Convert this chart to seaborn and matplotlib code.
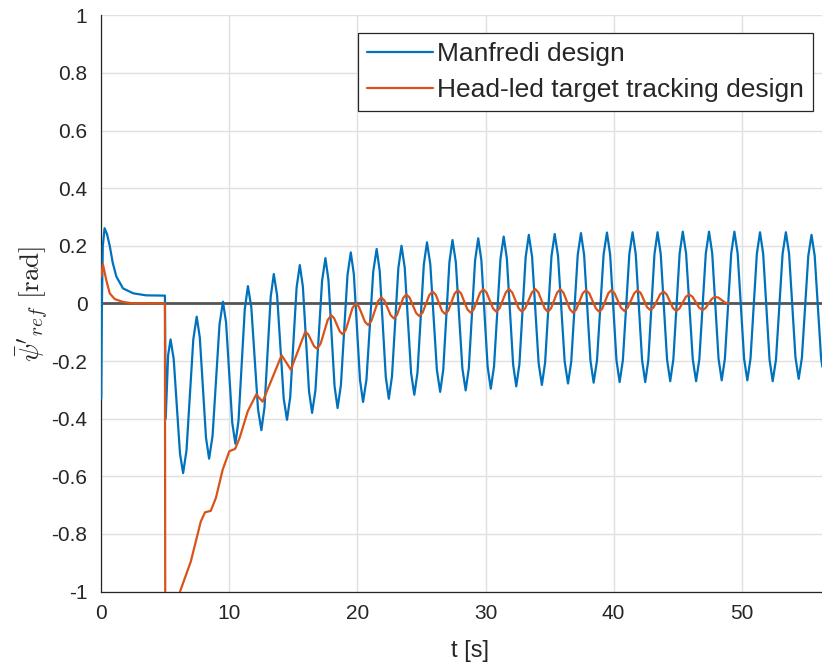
import matplotlib
matplotlib.use("Agg")
import matplotlib.pyplot as plt
import pandas as pd
import seaborn as sns

# Manfredi design response: (time [s], heading reference [rad])
manfredi = [
    (0.0, -0.33), (0.05, 0.0), (0.12, 0.2), (0.26, 0.261), (0.45, 0.24), (0.66, 0.2),
    (0.9, 0.14), (1.18, 0.093), (1.7, 0.052), (2.5, 0.035), (3.5, 0.028), (4.97, 0.027),
    (5.03, -0.40), (5.22, -0.18),
    (5.41, -0.125), (5.655, -0.193), (6.145, -0.521),
    (6.39, -0.589), (6.655, -0.510), (7.185, -0.125),
    (7.45, -0.046), (7.693, -0.118), (8.178, -0.467),
    (8.42, -0.539), (8.69, -0.459), (9.23, -0.074),
    (9.5, 0.006), (9.743, -0.066), (10.228, -0.415),
    (10.47, -0.487), (10.715, -0.407), (11.205, -0.020),
    (11.45, 0.060), (11.713, -0.013), (12.238, -0.367),
    (12.5, -0.44), (12.743, -0.361), (13.228, 0.023),
    (13.47, 0.102), (13.728, 0.028), (14.243, -0.330),
    (14.5, -0.404), (14.75, -0.326), (15.25, 0.055),
    (15.5, 0.133), (15.74, 0.058), (16.22, -0.305),
    (16.46, -0.38), (16.72, -0.302), (17.24, 0.079),
    (17.5, 0.157), (17.738, 0.081), (18.213, -0.287),
    (18.45, -0.363), (18.708, -0.284), (19.223, 0.098),
    (19.48, 0.177), (19.72, 0.101), (20.2, -0.266),
    (20.44, -0.342), (20.705, -0.264), (21.235, 0.111),
    (21.5, 0.189), (21.738, 0.113), (22.213, -0.255),
    (22.45, -0.331), (22.698, -0.253), (23.193, 0.122),
    (23.44, 0.200), (23.69, 0.125), (24.19, -0.242),
    (24.44, -0.317), (24.688, -0.240), (25.183, 0.135),
    (25.43, 0.212), (25.688, 0.136), (26.203, -0.231),
    (26.46, -0.307), (26.7, -0.230), (27.18, 0.143),
    (27.42, 0.220), (27.678, 0.144), (28.193, -0.226),
    (28.45, -0.302), (28.695, -0.225), (29.185, 0.149),
    (29.43, 0.226), (29.675, 0.150), (30.165, -0.220),
    (30.41, -0.296), (30.663, -0.219), (31.168, 0.155),
    (31.42, 0.232), (31.665, 0.156), (32.155, -0.212),
    (32.4, -0.288), (32.645, -0.211), (33.135, 0.161),
    (33.38, 0.238), (33.635, 0.162), (34.145, -0.207),
    (34.4, -0.283), (34.65, -0.206), (35.15, 0.164),
    (35.4, 0.241), (35.66, 0.165), (36.18, -0.202),
    (36.44, -0.278), (36.693, -0.202), (37.198, 0.168),
    (37.45, 0.244), (37.698, 0.168), (38.193, -0.199),
    (38.44, -0.275), (38.7, -0.199), (39.22, 0.170),
    (39.48, 0.246), (39.728, 0.170), (40.223, -0.197),
    (40.47, -0.273), (40.723, -0.197), (41.228, 0.171),
    (41.48, 0.247), (41.728, 0.171), (42.223, -0.197),
    (42.47, -0.273), (42.71, -0.197), (43.19, 0.171),
    (43.43, 0.247), (43.678, 0.172), (44.173, -0.195),
    (44.42, -0.270), (44.665, -0.194), (45.155, 0.173),
    (45.4, 0.249), (45.66, 0.173), (46.18, -0.194),
    (46.44, -0.270), (46.693, -0.194), (47.198, 0.173),
    (47.45, 0.249), (47.698, 0.174), (48.193, -0.192),
    (48.44, -0.267), (48.688, -0.192), (49.183, 0.174),
    (49.43, 0.249), (49.683, 0.174), (50.188, -0.192),
    (50.44, -0.267), (50.688, -0.192), (51.183, 0.172),
    (51.43, 0.247), (51.678, 0.172), (52.173, -0.195),
    (52.42, -0.270), (52.678, -0.195), (53.193, 0.172),
    (53.45, 0.247), (53.7, 0.173), (54.2, -0.188),
    (54.45, -0.262), (54.7, -0.189), (55.2, 0.165),
    (55.45, 0.238), (55.7, 0.165), (56.2, -0.19), (56.3, -0.22),
]

# Head-led target tracking design response: (time [s], heading reference [rad])
head_led = [
    (0.0, 0.093), (0.13, 0.136), (0.39, 0.081), (0.66, 0.035), (1.05, 0.015),
    (1.7, 0.005), (2.5, 0.0), (4.97, 0.0), (5.0, -1.35), (6.15, -1.0),
    (6.99, -0.896), (7.77, -0.757), (8.1, -0.725), (8.55, -0.72), (8.95, -0.675),
    (9.48, -0.577), (10.0, -0.513), (10.45, -0.505), (10.8, -0.467), (11.44, -0.374),
    (12.1, -0.316), (12.6, -0.341), (14.08, -0.18), (14.8, -0.23),
    (15.92, -0.099), (16.153, -0.107), (16.618, -0.149),
    (16.85, -0.157), (17.125, -0.140), (17.675, -0.058),
    (17.95, -0.041), (18.173, -0.051), (18.618, -0.097),
    (18.84, -0.107), (19.098, -0.091), (19.613, -0.016),
    (19.87, 0.0), (20.11, -0.011), (20.59, -0.064),
    (20.83, -0.075), (21.088, -0.061), (21.603, 0.007),
    (21.86, 0.021), (22.105, 0.010), (22.595, -0.041),
    (22.84, -0.052), (23.085, -0.040), (23.575, 0.019),
    (23.82, 0.031), (24.073, 0.020), (24.578, -0.033),
    (24.83, -0.044), (25.09, -0.032), (25.61, 0.029),
    (25.87, 0.041), (26.115, 0.030), (26.605, -0.026),
    (26.85, -0.037), (27.095, -0.025), (27.585, 0.034),
    (27.83, 0.046), (28.083, 0.035), (28.588, -0.021),
    (28.84, -0.032), (29.085, -0.020), (29.575, 0.037),
    (29.82, 0.049), (30.078, 0.038), (30.593, -0.018),
    (30.85, -0.029), (31.095, -0.017), (31.585, 0.038),
    (31.83, 0.050), (32.083, 0.038), (32.588, -0.017),
    (32.84, -0.029), (33.1, -0.017), (33.62, 0.038),
    (33.88, 0.050), (34.125, 0.038), (34.615, -0.017),
    (34.86, -0.029), (35.105, -0.018), (35.595, 0.038),
    (35.84, 0.049), (36.088, 0.037), (36.583, -0.020),
    (36.83, -0.032), (37.083, -0.021), (37.588, 0.035),
    (37.84, 0.046), (38.1, 0.035), (38.62, -0.018),
    (38.88, -0.029), (39.115, -0.018), (39.585, 0.035),
    (39.82, 0.046), (40.073, 0.035), (40.578, -0.015),
    (40.83, -0.026), (41.09, -0.015), (41.61, 0.035),
    (41.87, 0.046), (42.118, 0.036), (42.613, -0.013),
    (42.86, -0.023), (43.12, -0.014), (43.64, 0.032),
    (43.9, 0.041), (44.145, 0.031), (44.635, -0.016),
    (44.88, -0.026), (45.135, -0.018), (45.645, 0.023),
    (45.9, 0.031), (46.16, 0.023), (46.68, -0.015),
    (46.94, -0.023), (47.185, -0.016), (47.675, 0.016),
    (47.92, 0.023), (48.18, 0.020), (48.7, 0.003), (48.96, 0.0),
]

series_names = ["Manfredi design", "Head-led target tracking design"]
series_colors = ["#0072BD", "#D95319"]
x_ticks = [0, 10, 20, 30, 40, 50]
y_ticks = [-1, -0.8, -0.6, -0.4, -0.2, 0, 0.2, 0.4, 0.6, 0.8, 1]
y_tick_labels = ["-1", "-0.8", "-0.6", "-0.4", "-0.2", "0", "0.2", "0.4", "0.6", "0.8", "1"]

frames = []
for name, samples in zip(series_names, [manfredi, head_led]):
    part = pd.DataFrame(samples, columns=["t", "psi"])
    part["design"] = name
    frames.append(part)
df = pd.concat(frames, ignore_index=True)

sns.set_theme(style="white")
plt.rcParams["font.family"] = ["Liberation Sans", "DejaVu Sans"]
plt.rcParams["axes.unicode_minus"] = False
plt.rcParams["mathtext.fontset"] = "cm"

fig = plt.figure(figsize=(8.22, 6.68), dpi=100)
ax = fig.add_axes([0.1232, 0.1145, 0.8768, 0.8626])

# zero reference line under the responses
ax.axhline(0, color="#555555", lw=2.0, zorder=1)

sns.lineplot(data=df, x="t", y="psi", hue="design", hue_order=series_names,
             palette=series_colors, estimator=None, sort=False, linewidth=1.6,
             ax=ax, zorder=3, legend=False)

ax.set_xlim(0, 56.27)
ax.set_ylim(-1, 1)
ax.set_xticks(x_ticks)
ax.set_xticklabels([str(v) for v in x_ticks])
ax.set_yticks(y_ticks)
ax.set_yticklabels(y_tick_labels)

ax.grid(True, color="#e0e0e0", lw=1.0)
ax.set_axisbelow(True)
for side in ["top", "right"]:
    ax.spines[side].set_visible(False)
for side in ["left", "bottom"]:
    ax.spines[side].set_color("#262626")
    ax.spines[side].set_linewidth(0.9)
ax.tick_params(direction="in", length=5, width=0.9, color="#262626",
               labelsize=15, labelcolor="#262626")
ax.tick_params(axis="y", pad=10)
ax.tick_params(axis="x", pad=9)

ax.set_xlabel("t [s]", fontsize=17, color="#262626")
ax.xaxis.set_label_coords(0.512, -0.085)
ax.set_ylabel(r"$\bar{\psi}'_{ref}\ \mathrm{[rad]}$", fontsize=19.5, color="#262626", labelpad=0)

handles = [plt.Line2D([], [], color=c, lw=1.6) for c in series_colors]
leg = ax.legend(handles, series_names, loc="upper right", bbox_to_anchor=(0.9875, 0.9693),
                fontsize=19, frameon=True, fancybox=False, edgecolor="#262626",
                framealpha=1.0, handlelength=2.5, handletextpad=0.15, borderpad=0.35,
                labelspacing=0.45, borderaxespad=0.0)
leg.get_frame().set_linewidth(0.9)
leg.set_zorder(5)

fig.savefig("out.png", dpi=100)
